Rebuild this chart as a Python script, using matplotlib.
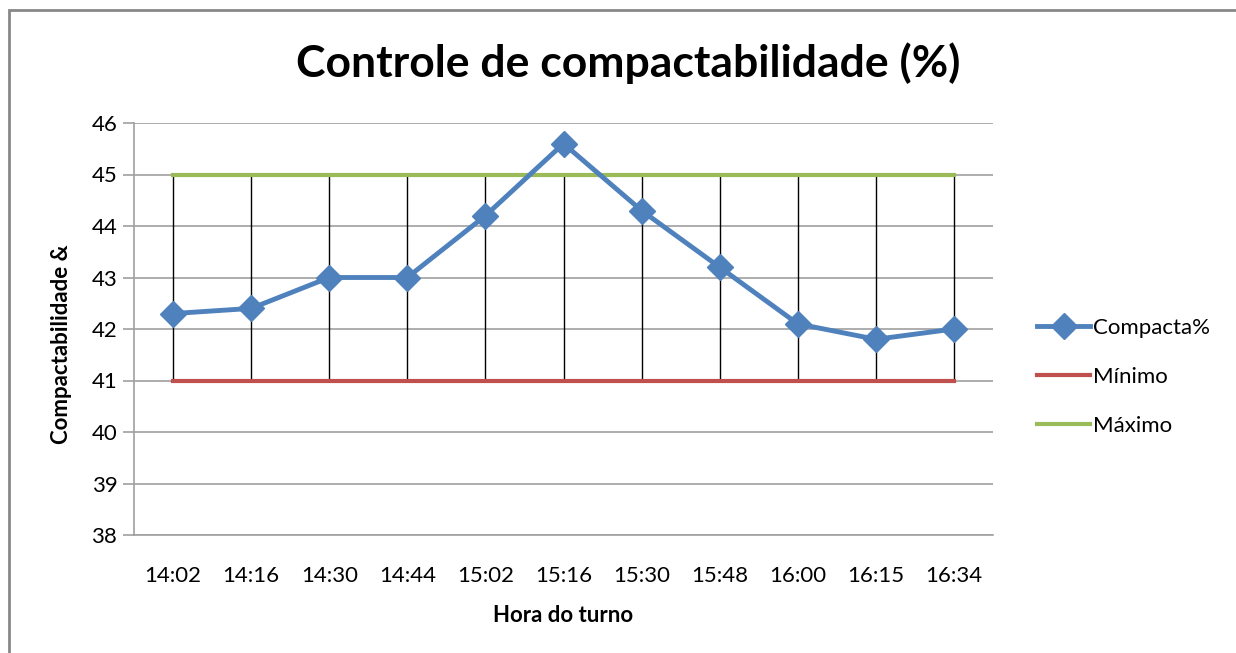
import matplotlib
matplotlib.use("Agg")
import matplotlib.pyplot as plt
from matplotlib.patches import Rectangle

categories = ["14:02", "14:16", "14:30", "14:44", "15:02", "15:16", "15:30", "15:48", "16:00", "16:15", "16:34"]
compacta = [42.3, 42.4, 43.0, 43.0, 44.2, 45.6, 44.3, 43.2, 42.1, 41.8, 42.0]
minimo = [41] * 11
maximo = [45] * 11

plt.rcParams['font.family'] = ['Lato', 'DejaVu Sans']

fig = plt.figure(figsize=(12.36, 6.53), dpi=100)
ax = fig.add_axes([134/1236, 1 - 535/653, (993-134)/1236, (535-123)/653])

x = list(range(len(categories)))

# high-low lines
ax.vlines(x, minimo, maximo, color='black', linewidth=1.0, zorder=2)

ax.plot(x, compacta, color='#4F81BD', linewidth=3.5, marker='D', markersize=13,
        label='Compacta%', zorder=5)
ax.plot(x, minimo, color='#C0504D', linewidth=3, label='Mínimo', zorder=3)
ax.plot(x, maximo, color='#9BBB59', linewidth=3, label='Máximo', zorder=3)

ax.set_xlim(-0.5, len(categories) - 0.5)
ax.set_ylim(38, 46)
ax.set_yticks(range(38, 47))
ax.set_xticks(x)
ax.set_xticklabels(categories)
ax.yaxis.grid(True, color='#A0A0A0', linewidth=1.2)
ax.set_axisbelow(True)

for s in ['top', 'right']:
    ax.spines[s].set_visible(False)
ax.spines['left'].set_color('#A0A0A0')
ax.spines['bottom'].set_color('#A0A0A0')
ax.spines['left'].set_linewidth(1.2)
ax.spines['bottom'].set_linewidth(1.2)
ax.tick_params(axis='y', length=8, color='#A0A0A0', width=1.2, labelsize=16, pad=4)
ax.tick_params(axis='x', length=0, labelsize=16, pad=22)

ax.set_xlabel('Hora do turno', fontsize=16, fontweight='bold', labelpad=14)
ax.set_ylabel('Compactabilidade &', fontsize=16, fontweight='bold')
ax.yaxis.set_label_coords((72 - 134) / 859, (535 - 344) / 412)

fig.text(628/1236, 1 - 63/653, 'Controle de compactabilidade (%)', fontsize=32,
         fontweight='bold', ha='center', va='center')

leg = ax.legend(loc='center left', bbox_to_anchor=(1017/1236, 1 - 377/653),
                bbox_transform=fig.transFigure, frameon=False, fontsize=16,
                handlelength=2.4, labelspacing=1.3, handletextpad=0.1)

fig.patches.append(Rectangle((9/1236, -0.1), 1.2, 1 - 10/653 + 0.1,
                             transform=fig.transFigure, fill=False,
                             edgecolor='#888888', linewidth=2))

fig.savefig('out.png', dpi=100)
